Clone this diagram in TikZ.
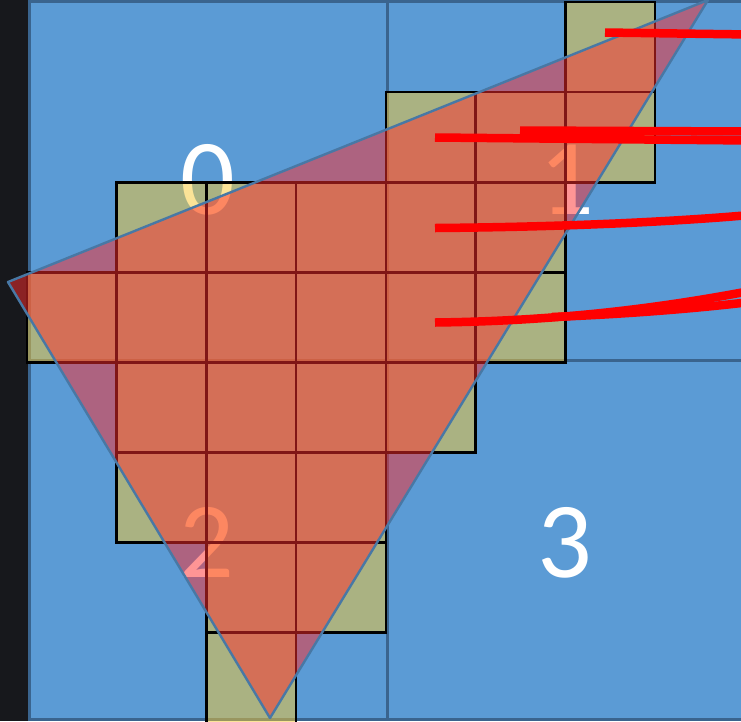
\documentclass[tikz,border=0pt]{standalone}
\usepackage{fontspec}
\setmainfont{Carlito}
\definecolor{bgdark}{RGB}{23,24,28}
\definecolor{qblue}{RGB}{91,155,213}
\definecolor{qedge}{RGB}{58,100,142}
\definecolor{tilegold}{RGB}{249,201,49}
\definecolor{trired}{RGB}{255,45,45}
\definecolor{triedge}{RGB}{72,120,165}
\begin{document}
\begin{tikzpicture}[x=1pt,y=-1pt,
  quad/.style={fill=qblue,draw=qedge,line width=3pt},
  tile/.style={fill=tilegold,fill opacity=0.5,draw=black,line width=2.6pt},
  lbl/.style={text=white,font=\fontsize{108}{108}\selectfont,inner sep=0pt,anchor=base},
  tri/.style={fill=trired,fill opacity=0.5,draw=triedge,line width=2.4pt,line join=round},
  ray/.style={draw=red,line width=8.5pt}]
\useasboundingbox (0,0) rectangle (741,721);
\fill[bgdark] (0,0) rectangle (741,721);
\begin{scope}
\clip (0,0) rectangle (741,721);
% quadrants
\draw[quad] (29,1) rectangle (387,360);
\draw[quad] (387,1) rectangle (752,360);
\draw[quad] (29,360) rectangle (387,719.5);
\draw[quad] (387,360) rectangle (752,719.5);
% labels
\node[lbl] (l0) at (208,214.5) {0};
\node[lbl] (l1) at (567,214.5) {1};
\node[lbl] (l2) at (207,577) {2};
\node[lbl] (l3) at (565,577) {3};
% tiles
\foreach \c/\r in {6/0,4/1,5/1,6/1,1/2,2/2,3/2,4/2,5/2,0/3,1/3,2/3,3/3,4/3,5/3,1/4,2/4,3/4,4/4,1/5,2/5,3/5,2/6,3/6,2/7}
  \draw[tile] ({27+89.7*\c},{2+90.1*\r}) rectangle ++(89.7,90.1);
% triangle
\coordinate (A) at (8,282);
\coordinate (B) at (708,0);
\coordinate (C) at (270,718);
\draw[tri] (A) -- (B) -- (C) -- cycle;
% rays
\coordinate (r1s) at (605,32.5);  \coordinate (r1e) at (750,34.5);
\coordinate (r2s) at (435,137.5); \coordinate (r2e) at (750,140.5);
\coordinate (r3s) at (520,130.5); \coordinate (r3e) at (750,131.5);
\coordinate (r4s) at (435,228);   \coordinate (r4e) at (750,215);
\coordinate (r5s) at (435,322.5); \coordinate (r5e) at (750,291);
\coordinate (r6s) at (552,317);   \coordinate (r6e) at (750,302);
\draw[ray] (r1s) -- (r1e);
\draw[ray] (r2s) -- (r2e);
\draw[ray] (r3s) -- (r3e);
\draw[ray] (r4s) .. controls (560,227) and (670,222) .. (r4e);
\draw[ray] (r5s) .. controls (560,321) and (660,308) .. (r5e);
\draw[ray] (r6s) .. controls (630,314) and (700,308) .. (r6e);
\end{scope}
\end{tikzpicture}
\end{document}
